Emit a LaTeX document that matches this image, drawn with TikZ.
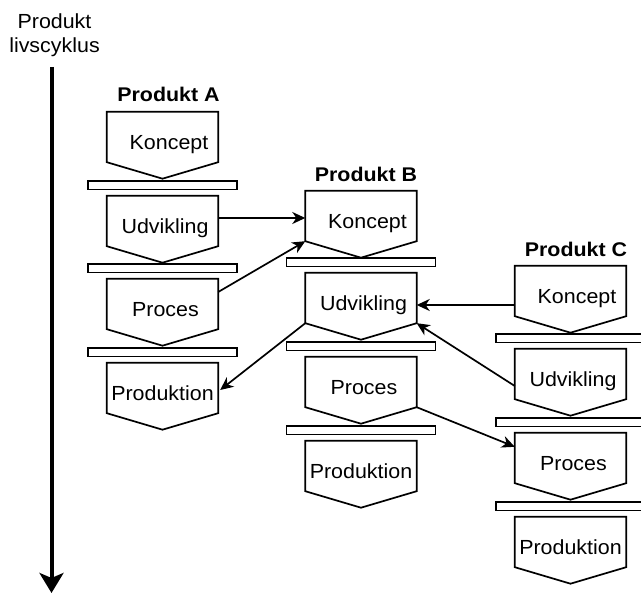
\documentclass[tikz,border=0pt]{standalone}
\usepackage{fontspec}
\usepackage{graphicx}
\setmainfont{Liberation Sans}
\usetikzlibrary{arrows.meta,calc}

% slightly widened lettering
\newcommand\wide[1]{\scalebox{1.05}[1]{#1}}
\newcommand\widebf[1]{\scalebox{1.08}[1]{#1}}

% one phase: rectangle body with a downward point and its label
% #1 name, #2 centre x, #3 top y, #4 label shift, #5 label
\newcommand\stage[5]{%
  \node[stagebox] (#1) at (#2,#3+25) {};
  \draw[stageline] (#1.north west) -- (#1.north east) -- (#1.south east)
    -- ($(#1.south)+(0,16.5)$) -- (#1.south west) -- cycle;
  \node[stagetext] (#1t) at (#2+#4,#3+37.5) {\wide{#5}};
}
% separator bar above a phase
\newcommand\sepbar[3]{%
  \node[sepbox] (#1) at (#2,#3-10.75) {};
}

\tikzset{
  stagebox/.style={draw=none, minimum width=111pt, minimum height=50pt, inner sep=0pt},
  stageline/.style={line width=1.7pt, line join=miter, fill=white},
  stagetext/.style={anchor=base, inner sep=0pt, font=\fontsize{20.4}{24}\selectfont},
  sepbox/.style={draw, line width=1.7pt, fill=white, minimum width=149pt, minimum height=8.5pt, inner sep=0pt},
  title/.style={anchor=base, inner sep=0pt, font=\fontsize{19.8}{24}\selectfont\bfseries},
  conn/.style={line width=1.7pt, -{Stealth[length=13pt,width=12pt,inset=4pt]}},
  timeline/.style={line width=4pt, -{Stealth[length=20pt,width=24pt,inset=5pt]}},
}

\begin{document}
\begin{tikzpicture}[x=1pt,y=-1pt]
\useasboundingbox (0,0) rectangle (641,593);

% life-cycle axis
\node[stagetext] (lc1) at (54.5,29) {\wide{Produkt}};
\node[stagetext] (lc2) at (54.5,52.5) {\wide{livscyklus}};
\coordinate (axtop) at (51.5,67);
\coordinate (axbot) at (51.5,593);
\draw[timeline] (axtop) -- (axbot);

% Produkt A
\node[title] (tA) at (168.5,102) {\widebf{Produkt A}};
\stage{a1}{162.5}{112}{6.5}{Koncept}
\sepbar{sa2}{162.5}{196}
\stage{a2}{162.5}{196}{2.5}{Udvikling}
\sepbar{sa3}{162.5}{279}
\stage{a3}{162.5}{279}{3}{Proces}
\sepbar{sa4}{162.5}{363}
\stage{a4}{162.5}{363}{0}{Produktion}

% Produkt B
\node[title] (tB) at (366,182) {\widebf{Produkt B}};
\stage{b1}{361}{191}{6.5}{Koncept}
\sepbar{sb2}{361}{273}
\stage{b2}{361}{273}{2.5}{Udvikling}
\sepbar{sb3}{361}{357}
\stage{b3}{361}{357}{3}{Proces}
\sepbar{sb4}{361}{441}
\stage{b4}{361}{441}{0}{Produktion}

% Produkt C
\node[title] (tC) at (576,257) {\widebf{Produkt C}};
\stage{c1}{570.5}{266}{6.5}{Koncept}
\sepbar{sc2}{570.5}{349}
\stage{c2}{570.5}{349}{2.5}{Udvikling}
\sepbar{sc3}{570.5}{433}
\stage{c3}{570.5}{433}{3}{Proces}
\sepbar{sc4}{570.5}{517}
\stage{c4}{570.5}{517}{0}{Produktion}

% hand-overs between products
\coordinate (a2out) at ($(a2.east)+(0,-3)$);
\draw[conn] (a2out) -- (a2out -| b1.west);
\coordinate (a3out) at ($(a3.east)+(0,-12)$);
\draw[conn] (a3out) -- (b1.south west);
\draw[conn] (b2.south west) -- ($(a4.east)+(2,2)$);
\coordinate (c1out) at ($(c1.west)+(0,14)$);
\draw[conn] (c1out) -- (c1out -| b2.east);
\coordinate (c2out) at ($(c2.west)+(0,12)$);
\draw[conn] (c2out) -- (b2.south east);
\coordinate (c3in) at ($(c3.north west)+(0,14)$);
\draw[conn] (b3.south east) -- (c3in);
\end{tikzpicture}
\end{document}
